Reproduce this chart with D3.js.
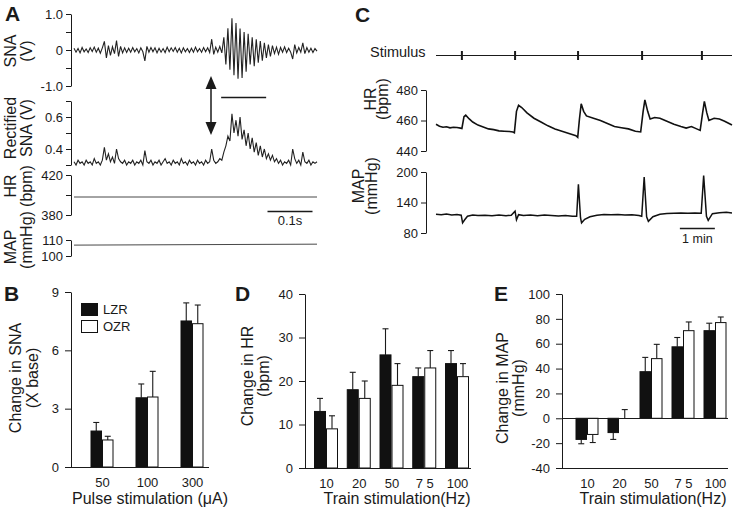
<!DOCTYPE html>
<html><head><meta charset="utf-8">
<script src="https://cdn.jsdelivr.net/npm/d3@7"></script>
<style>
body{margin:0;background:#fff;}
svg{display:block;font-family:"Liberation Sans",Arial,Helvetica,sans-serif;}
</style></head><body>
<svg id="c" width="737" height="511"></svg>
<script>
// ---------------- DATA ----------------
// Panel A: raw SNA (V), sampled evenly over 0..0.54 s
const snaRaw = [0.05,-0.06,0.04,-0.08,0.07,-0.05,0.03,-0.07,0.06,-0.04,0.08,-0.06,0.05,-0.09,0.06,
 0.24,-0.22,0.12,-0.15,0.09,-0.1,
 0.26,-0.18,0.1,-0.08,0.06,-0.07,0.05,-0.06,0.07,-0.05,0.04,-0.08,0.06,-0.05,
 -0.3,0.1,-0.06,0.07,-0.05,0.06,-0.08,0.05,-0.06,0.04,-0.07,0.08,-0.05,0.06,-0.04,0.07,-0.06,0.05,-0.08,0.06,-0.05,0.04,-0.07,0.05,-0.06,0.08,-0.05,0.04,-0.06,0.07,-0.05,0.06,-0.07,
 0.3,-0.12,0.08,-0.06,0.1,-0.08,
 0.35,-0.4,0.6,-0.55,0.88,-0.7,0.75,-0.8,0.6,-0.78,0.5,-0.6,0.45,-0.4,0.35,-0.45,0.3,-0.35,0.25,-0.3,0.2,-0.22,
 0.15,-0.18,0.12,-0.1,0.08,-0.12,0.07,-0.06,0.09,-0.07,0.05,-0.06,
 -0.25,0.15,-0.08,0.07,-0.06,
 0.2,-0.1,0.07,-0.06,0.05,-0.07,0.04,-0.03];
// Panel A: rectified SNA (V)
const snaRect = [0.32,0.30,0.33,0.31,0.32,0.30,0.33,0.31,0.32,0.30,0.34,0.31,0.32,0.30,0.33,
 0.41,0.33,0.37,0.32,0.35,0.31,
 0.40,0.34,0.32,0.31,0.33,0.30,0.32,0.31,0.33,0.30,0.32,0.31,0.33,0.30,
 0.39,0.32,0.31,0.33,0.30,0.32,0.31,0.33,0.30,0.32,0.34,0.31,0.32,0.30,0.33,0.31,0.32,0.30,0.34,0.31,0.32,0.30,0.33,0.31,0.32,0.30,0.33,0.31,0.32,0.30,0.33,0.31,0.32,
 0.40,0.33,0.31,0.32,0.34,0.33,
 0.38,0.42,0.48,0.45,0.62,0.50,0.58,0.48,0.60,0.46,0.52,0.42,0.50,0.40,0.47,0.38,0.44,0.36,0.42,0.35,0.40,0.34,
 0.37,0.33,0.36,0.32,0.34,0.31,0.33,0.30,0.32,0.31,0.33,0.30,
 0.40,0.34,0.31,0.33,0.30,
 0.38,0.32,0.31,0.33,0.30,0.32,0.31,0.32];
const traceDurA = 0.54;           // s
const hrA = [[0,398],[0.54,398]];  // bpm
const mapA = [[0,106.8],[0.54,107.4]]; // mmHg
const stimWindowA = [0.327,0.427]; // s

// Panel C (time in min)
const traceDurC = 8.46;
const stimTimes = [0.74,2.26,4.06,5.89,7.6];
const hrC = [[0,457.5],[0.1,456.3],[0.2,455.6],[0.3,455.9],[0.4,455.2],[0.5,455.6],[0.6,455.4],[0.7,455],[0.74,454.8],
 [0.8,462.5],[0.85,463.5],[0.95,461],[1.05,459],[1.2,457],[1.35,455.8],[1.5,454.5],[1.65,454],[1.8,453.2],[1.95,453],[2.1,452.8],[2.2,452.5],[2.24,452],
 [2.3,466],[2.36,470],[2.45,468.5],[2.6,465],[2.8,461.5],[3.0,459],[3.2,456.5],[3.4,454.5],[3.6,453],[3.8,451.5],[4.0,450],[4.05,449],
 [4.1,461],[4.15,471],[4.22,466],[4.3,463],[4.5,461.5],[4.7,460],[4.9,458],[5.1,456],[5.3,455.2],[5.5,454.5],[5.7,453],[5.85,452.5],
 [5.92,466],[5.97,473.5],[6.05,466],[6.12,461],[6.25,462],[6.4,461.5],[6.6,459.5],[6.8,457.5],[7.0,456],[7.15,455],[7.3,456],[7.45,454.5],[7.55,453.5],
 [7.62,465],[7.67,472.5],[7.74,465],[7.8,460],[7.95,461.5],[8.1,461],[8.25,459.5],[8.46,457]];
const mapC = [[0,117],[0.15,116],[0.3,117.5],[0.45,115.5],[0.6,116.5],[0.72,115],[0.76,100],[0.82,106],[0.9,113],[1.05,115.5],[1.2,114.5],[1.4,115],[1.6,114],[1.8,115.5],[2.0,114],[2.15,115],
 [2.26,123],[2.3,106],[2.36,116],[2.5,114.5],[2.7,115.5],[2.9,114],[3.1,115.5],[3.3,114.5],[3.5,113.5],[3.7,114.5],[3.9,113],[4.02,113],
 [4.07,176],[4.13,110],[4.16,100],[4.25,107],[4.4,112],[4.6,115],[4.8,116.5],[5.0,116],[5.2,116.5],[5.4,115.5],[5.6,116],[5.8,114.5],[5.88,113],
 [5.95,190],[6.02,112],[6.07,103],[6.2,112],[6.4,117],[6.6,118.5],[6.8,119],[7.0,119.5],[7.2,119],[7.4,119.5],[7.58,119],
 [7.65,193],[7.73,113],[7.78,105],[7.9,118],[8.1,120],[8.3,121],[8.46,119.5]];

// Panel B
const pulseCats = ["50","100","300"];
const snaLZR = [1.85,3.56,7.51], snaLZRerr = [0.44,0.71,0.93];
const snaOZR = [1.39,3.6,7.37],  snaOZRerr = [0.19,1.32,0.96];
// Panel D / E
const trainCats = ["10","20","50","7 5","100"];
const hrLZR = [13,18,26,21,24],  hrLZRerr = [3,4,6,2,3];
const hrOZR = [9,16,19,23,21],   hrOZRerr = [3,4,5,4,3];
const mapLZR = [-17,-11.5,37.5,57.5,70.5], mapLZRerr = [3.5,5.5,11.5,7.5,6];
const mapOZR = [-13,0,48,70.5,77],        mapOZRerr = [6.5,7,11.5,7,4.5];

// ---------------- DRAWING ----------------
const svg = d3.select("#c");
const INK = "#1a1a1a";

function styleAxis(g, size){
  g.selectAll("path,line").attr("stroke",INK).attr("stroke-width",1);
  g.selectAll("text").attr("font-size",size).attr("fill",INK)
   .attr("font-family",'"Liberation Sans", Arial, Helvetica, sans-serif');
}
function vtext(x,y,s,size){
  svg.append("text").attr("transform",`translate(${x},${y}) rotate(-90)`)
    .attr("text-anchor","middle").attr("font-size",size).attr("fill",INK).text(s);
}
function htext(x,y,s,size,anchor="middle",weight="normal"){
  svg.append("text").attr("x",x).attr("y",y).attr("text-anchor",anchor)
    .attr("font-size",size).attr("font-weight",weight).attr("fill",INK).text(s);
}
function yAxis(x, scale, ticks, fmt, size, tsize=5, pad=3){
  const g = svg.append("g").attr("transform",`translate(${x},0)`)
    .call(d3.axisLeft(scale).tickValues(ticks).tickSize(tsize).tickSizeOuter(0).tickPadding(pad).tickFormat(fmt));
  styleAxis(g,size);
  return g;
}

// Panel letters
htext(5,21,"A",21,"start","bold");
htext(355,22,"C",21,"start","bold");
htext(4,301,"B",21,"start","bold");
htext(235,301,"D",21,"start","bold");
htext(494,301,"E",21,"start","bold");

// ===== Panel A =====
const xA = d3.scaleLinear().domain([0,traceDurA]).range([74,317]);
const tRaw = snaRaw.map((d,i)=> i*traceDurA/(snaRaw.length-1));
const ySNA = d3.scaleLinear().domain([-1,1]).range([86,14]);
yAxis(71, ySNA, [-1,-0.5,0,0.5,1], d=> d===0?"0":(d===1?"1.0":(d===-1?"-1.0":"")), 13);
svg.append("path").datum(snaRaw).attr("fill","none").attr("stroke","#222").attr("stroke-width",1.1)
  .attr("d", d3.line().x((d,i)=>xA(tRaw[i])).y(d=>ySNA(d)));

const yRect = d3.scaleLinear().domain([0.3,0.7]).range([165,101]);
yAxis(71, yRect, [0.3,0.4,0.5,0.6,0.7], d=> (Math.abs(d-0.4)<1e-9?"0.4":(Math.abs(d-0.6)<1e-9?"0.6":"")), 13);
svg.append("path").datum(snaRect).attr("fill","none").attr("stroke","#222").attr("stroke-width",1.1)
  .attr("d", d3.line().x((d,i)=>xA(tRaw[i])).y(d=>yRect(d)));

const yHRA = d3.scaleLinear().domain([380,420]).range([215,175]);
yAxis(71, yHRA, [380,400,420], d=> d===400?"":d, 13);
svg.append("path").datum(hrA).attr("fill","none").attr("stroke","#333").attr("stroke-width",0.9)
  .attr("d", d3.line().x(d=>xA(d[0])).y(d=>yHRA(d[1])));

const yMAPA = d3.scaleLinear().domain([100,110]).range([256,240]);
yAxis(71, yMAPA, [100,110], d=>d, 13);
svg.append("path").datum(mapA).attr("fill","none").attr("stroke","#333").attr("stroke-width",0.9)
  .attr("d", d3.line().x(d=>xA(d[0])).y(d=>yMAPA(d[1])));

// stimulus window bar & arrow
svg.append("line").attr("x1",xA(stimWindowA[0])).attr("x2",xA(stimWindowA[1]))
  .attr("y1",97.5).attr("y2",97.5).attr("stroke",INK).attr("stroke-width",1.3);
const ax = 211;
svg.append("line").attr("x1",ax).attr("x2",ax).attr("y1",86).attr("y2",125).attr("stroke",INK).attr("stroke-width",1.5);
svg.append("path").attr("d",`M${ax},76 L${ax-5.5},89 L${ax+5.5},89 Z`).attr("fill",INK);
svg.append("path").attr("d",`M${ax},135 L${ax-5.5},122 L${ax+5.5},122 Z`).attr("fill",INK);
// time scale bar 0.1 s
svg.append("line").attr("x1",xA(0.43)).attr("x2",xA(0.53)).attr("y1",211.5).attr("y2",211.5).attr("stroke",INK).attr("stroke-width",1.3);
htext((xA(0.43)+xA(0.53))/2,225,"0.1s",13);

// A y labels
vtext(16,51,"SNA",16); vtext(32,51,"(V)",16);
vtext(16,128,"Rectified",16); vtext(32,128,"SNA (V)",16);
vtext(16,186,"HR",16); vtext(32,186,"(bpm)",16);
vtext(16,247,"MAP",16); vtext(32,240,"(mmHg)",16);

// ===== Panel C =====
const xC = d3.scaleLinear().domain([0,traceDurC]).range([436,732]);
htext(370,57,"Stimulus",14.5,"start");
svg.append("line").attr("x1",xC(0)).attr("x2",xC(traceDurC)).attr("y1",55.5).attr("y2",55.5).attr("stroke",INK).attr("stroke-width",1);
svg.selectAll(".stim").data(stimTimes).join("line").attr("class","stim")
  .attr("x1",d=>xC(d)).attr("x2",d=>xC(d)).attr("y1",51).attr("y2",60).attr("stroke",INK).attr("stroke-width",2);

const yHRC = d3.scaleLinear().domain([440,480]).range([151,90]);
yAxis(426, yHRC, [440,460,480], d=>d, 13);
svg.append("path").datum(hrC).attr("fill","none").attr("stroke","#111").attr("stroke-width",1.6)
  .attr("d", d3.line().x(d=>xC(d[0])).y(d=>yHRC(d[1])));

const yMAPC = d3.scaleLinear().domain([80,200]).range([233,172]);
yAxis(426, yMAPC, [80,140,200], d=>d, 13);
svg.append("path").datum(mapC).attr("fill","none").attr("stroke","#111").attr("stroke-width",1.5)
  .attr("d", d3.line().x(d=>xC(d[0])).y(d=>yMAPC(d[1])));

svg.append("line").attr("x1",xC(6.97)).attr("x2",xC(7.97)).attr("y1",228.5).attr("y2",228.5).attr("stroke",INK).attr("stroke-width",1.3);
htext((xC(6.97)+xC(7.97))/2,243,"1 min",12.5);

vtext(376,99,"HR",16); vtext(388,99,"(bpm)",16);
vtext(364,186,"MAP",16); vtext(377,186,"(mmHg)",16);

// ===== Bar panels =====
function barPanel(o){
  const x = d3.scalePoint().domain(o.cats).range(o.centers);
  const y = d3.scaleLinear().domain(o.ydom).range([o.ybottom,o.ytop]);
  yAxis(o.ax, y, o.ticks, d=>d, 13, 6, 6);
  const bw = o.bw;
  const series = [
    {vals:o.lzr, errs:o.lzrErr, off:-bw, fill:"#111"},
    {vals:o.ozr, errs:o.ozrErr, off:0,   fill:"#fff"}
  ];
  series.forEach(s=>{
    const g = svg.append("g");
    g.selectAll(".eb").data(o.cats).join("g").each(function(c,i){
      const v = s.vals[i], e = s.errs[i];
      const cx = x(c)+s.off+bw/2;
      const tip = v>=0 ? v+e : v-e;
      const gg = d3.select(this);
      gg.append("line").attr("x1",cx).attr("x2",cx).attr("y1",y(v)).attr("y2",y(tip)).attr("stroke",INK).attr("stroke-width",1.1);
      gg.append("line").attr("x1",cx-3).attr("x2",cx+3).attr("y1",y(tip)).attr("y2",y(tip)).attr("stroke",INK).attr("stroke-width",1.1);
    });
    g.selectAll("rect").data(o.cats).join("rect")
      .attr("x",c=>x(c)+s.off+0.5)
      .attr("width",bw-1)
      .attr("y",(c,i)=> y(Math.max(0,s.vals[i])))
      .attr("height",(c,i)=> Math.abs(y(s.vals[i])-y(0)))
      .attr("fill",s.fill).attr("stroke","#111").attr("stroke-width",1);
  });
  svg.append("line").attr("x1",o.ax).attr("x2",o.xend).attr("y1",Math.round(y(0))+0.5).attr("y2",Math.round(y(0))+0.5).attr("stroke",INK);
  if (o.ydom[0] < 0) svg.append("line").attr("x1",o.ax).attr("x2",o.xend).attr("y1",o.ybottom+0.5).attr("y2",o.ybottom+0.5).attr("stroke",INK);
  const gx = svg.append("g").attr("transform",`translate(0,${o.ybottom})`)
    .call(d3.axisBottom(x).tickSize(0).tickPadding(11));
  gx.select(".domain").remove();
  styleAxis(gx,13);
  htext(o.titleX,504,o.xtitle,16);
  vtext(o.yt1x,o.ytY,o.yt1,16);
  vtext(o.yt2x,o.ytY,o.yt2,16);
  return {x,y};
}

barPanel({cats:pulseCats, centers:[102,192], ydom:[0,9], ybottom:467, ytop:292, ax:71, ticks:[0,3,6,9],
  bw:11.5, lzr:snaLZR, lzrErr:snaLZRerr, ozr:snaOZR, ozrErr:snaOZRerr, xend:209,
  xtitle:"Pulse stimulation (\u03bcA)", titleX:150, yt1:"Change in SNA", yt2:"(X base)", yt1x:21, yt2x:38, ytY:378});

barPanel({cats:trainCats, centers:[326,457], ydom:[0,40], ybottom:468, ytop:294, ax:305, ticks:[0,10,20,30,40],
  bw:12, lzr:hrLZR, lzrErr:hrLZRerr, ozr:hrOZR, ozrErr:hrOZRerr, xend:471,
  xtitle:"Train stimulation(Hz)", titleX:397, yt1:"Change in HR", yt2:"(bpm)", yt1x:253, yt2x:269, ytY:376});

barPanel({cats:trainCats, centers:[587,715], ydom:[-40,100], ybottom:468, ytop:294, ax:562, ticks:[-40,-20,0,20,40,60,80,100],
  bw:11.5, lzr:mapLZR, lzrErr:mapLZRerr, ozr:mapOZR, ozrErr:mapOZRerr, xend:728,
  xtitle:"Train stimulation(Hz)", titleX:653, yt1:"Change in MAP", yt2:"(mmHg)", yt1x:508, yt2x:524, ytY:388});

// Legend (panel B)
svg.append("rect").attr("x",81.5).attr("y",303.5).attr("width",16).attr("height",12).attr("fill","#111").attr("stroke","#111");
svg.append("rect").attr("x",81.5).attr("y",320.5).attr("width",16).attr("height",12).attr("fill","#fff").attr("stroke","#111");
htext(103,314,"LZR",13,"start");
htext(103,331,"OZR",13,"start");
</script></body></html>
